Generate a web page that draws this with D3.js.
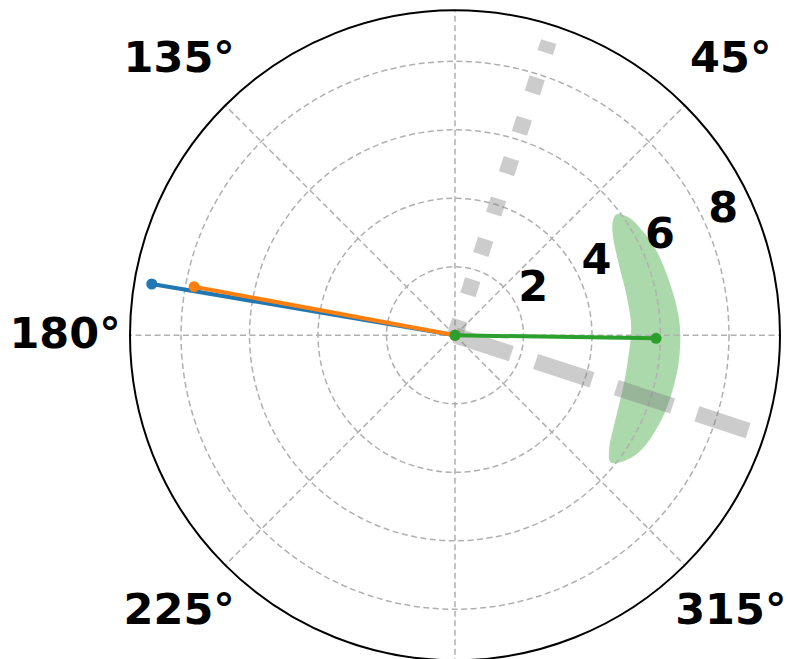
<!DOCTYPE html>
<html><head><meta charset="utf-8">
<script src="https://cdn.jsdelivr.net/npm/d3@7"></script>
<style>html,body{margin:0;padding:0;background:#fff;} svg{display:block;}</style>
</head><body>
<svg id="chart" width="790" height="659"></svg>
<script>
// ---- data ----
const seriesNames = ["series A", "series B", "series C"];
const seriesColors = ["#1f77b4", "#ff7f0e", "#2ca02c"];
const seriesTheta = [170.4, 169.45, -0.86];   // degrees
const seriesR = [8.98, 7.75, 5.87];

const refTheta = [72.3, -18.0];
const refR = [9.0, 9.0];
const refStyle = ["dotted", "dashed"];

// outline of the shaded band (degrees, radius)
const bandTheta = [36.8, 33.8, 28.8, 23.5, 16.8, 10.5, 5.2, 0.0, -6.7, -12.8, -20.0, -25.7, -31.0, -35.1, -38.7,
                   -39.2, -36.2, -30.4, -21.9, -14.2, -7.6, 0.0, 4.4, 9.9, 15.5, 21.0, 26.4, 31.5, 35.8];
const bandR = [5.90, 6.15, 6.27, 6.37, 6.43, 6.49, 6.55, 6.58, 6.58, 6.56, 6.53, 6.48, 6.40, 6.25, 5.98,
               5.84, 5.58, 5.36, 5.19, 5.12, 5.10, 5.14, 5.15, 5.14, 5.15, 5.18, 5.27, 5.42, 5.68];

const radialTicks = [2, 4, 6, 8];
const angleTicks = [0, 45, 90, 135, 180, 225, 270, 315];
const angleLabels = [45, 135, 180, 225, 315];
const rMax = 9.49;

// ---- layout ----
const cx = 455, cy = 335.3, R = 325;
const svg = d3.select("#chart");
const g = svg.append("g").attr("transform", `translate(${cx},${cy})`);
const r = d3.scaleLinear().domain([0, rMax]).range([0, R]);
const toA = deg => (90 - deg) * Math.PI / 180;   // lineRadial angle (clockwise from 12 o'clock)
const radial = d3.lineRadial().angle(d => toA(d[0])).radius(d => r(d[1]));
const font = "'DejaVu Sans', sans-serif";

// band
g.append("path")
  .datum(bandTheta.map((t, i) => [t, bandR[i]]))
  .attr("d", radial.curve(d3.curveCatmullRomClosed.alpha(0.5)))
  .attr("fill", "#2ca02c").attr("fill-opacity", 0.4).attr("stroke", "none");

const line = d3.lineRadial().angle(d => toA(d[0])).radius(d => r(d[1]));

// grid
const grid = g.append("g").attr("fill", "none").attr("stroke", "#b0b0b0")
  .attr("stroke-width", 1.5).attr("stroke-dasharray", "6,3.5");
radialTicks.forEach(t => grid.append("circle").attr("r", r(t)));
angleTicks.forEach(a => grid.append("path").attr("d", line([[a, 0], [a, rMax]])));

// reference lines
refTheta.forEach((t, i) => {
  const lw = 16;
  g.append("path").attr("d", line([[t, 0], [t, refR[i]]]))
    .attr("fill", "none").attr("stroke", "#808080").attr("stroke-opacity", 0.4)
    .attr("stroke-width", lw).attr("stroke-linecap", "butt")
    .attr("stroke-dasharray", refStyle[i] === "dotted" ? `${lw},${1.65 * lw}` : `${3.7 * lw},${1.6 * lw}`);
});

// series
seriesTheta.forEach((t, i) => {
  const pts = [[0, 0], [t, seriesR[i]]];
  const sg = g.append("g");
  sg.append("path").attr("d", line(pts)).attr("fill", "none")
    .attr("stroke", seriesColors[i]).attr("stroke-width", 4).attr("stroke-linecap", "round");
  pts.forEach(p => {
    const a = toA(p[0]);
    sg.append("circle").attr("cx", r(p[1]) * Math.sin(a)).attr("cy", -r(p[1]) * Math.cos(a))
      .attr("r", 5.5).attr("fill", seriesColors[i]);
  });
});

// radial labels
const rlabAngle = 22.5 * Math.PI / 180;
radialTicks.forEach(t => {
  const x = r(t) * Math.cos(rlabAngle) + 15;
  const y = -r(t) * Math.sin(rlabAngle) - 24;
  g.append("text").attr("x", x).attr("y", y + 15.5).attr("text-anchor", "middle")
    .attr("font-family", font).attr("font-weight", "bold").attr("font-size", 43)
    .attr("fill", "#000").text(t);
});

// outer spine
g.append("circle").attr("r", R).attr("fill", "none").attr("stroke", "#000").attr("stroke-width", 2);

// angle labels
const LR = 390;
angleLabels.forEach(a => {
  const rad = a * Math.PI / 180;
  g.append("text").attr("x", LR * Math.cos(rad)).attr("y", -LR * Math.sin(rad) + 12.8)
    .attr("text-anchor", "middle").attr("font-family", font).attr("font-weight", "bold")
    .attr("font-size", 43).attr("fill", "#000").text(a + "°");
});
</script>
</body></html>
